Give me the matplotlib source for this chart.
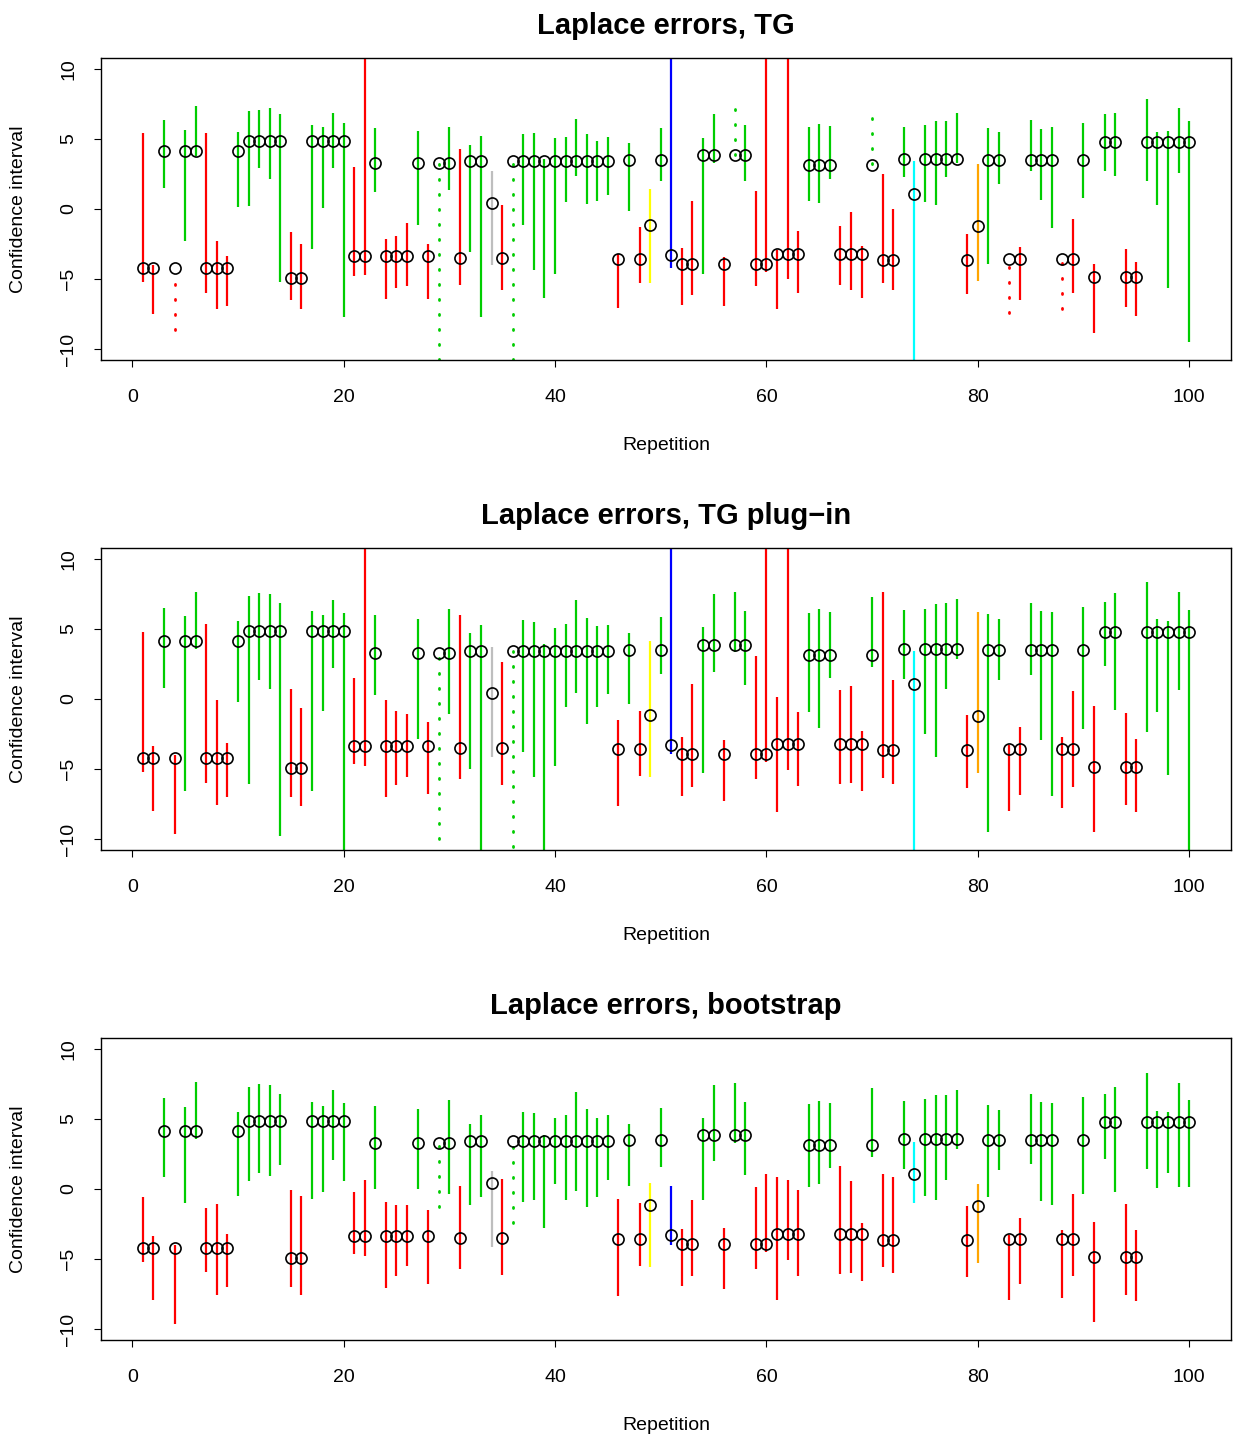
import numpy as np
import matplotlib
matplotlib.use("Agg")
import matplotlib.pyplot as plt

plt.rcParams['font.family'] = ['Liberation Sans', 'DejaVu Sans']

# repetitions and point estimates (same in every panel)
rep = np.arange(1, 101)
est = [-4.19, -4.19, 4.14, -4.19, 4.14, 4.14, -4.19, -4.19, -4.19, 4.14,
       4.86, 4.86, 4.86, 4.86, -4.90, -4.90, 4.86, 4.86, 4.86, 4.86,
       -3.33, -3.33, 3.26, -3.33, -3.33, -3.33, 3.26, -3.33, 3.26, 3.26,
       -3.50, 3.43, 3.43, 0.45, -3.50, 3.43, 3.43, 3.43, 3.43, 3.43,
       3.43, 3.43, 3.43, 3.43, 3.43, -3.55, 3.48, -3.55, -1.17, 3.48,
       -3.31, -3.90, -3.90, 3.86, 3.86, -3.90, 3.86, 3.86, -3.90, -3.90,
       -3.19, -3.19, -3.19, 3.14, 3.14, 3.14, -3.19, -3.19, -3.19, 3.14,
       -3.67, -3.67, 3.60, 1.05, 3.60, 3.60, 3.60, 3.60, -3.67, -1.21,
       3.52, 3.52, -3.60, -3.60, 3.52, 3.52, 3.52, -3.60, -3.60, 3.52,
       -4.86, 4.81, 4.81, -4.86, -4.86, 4.81, 4.81, 4.81, 4.81, 4.81]

# colours that differ from the usual red / green
special_col = {34: '#BEBEBE', 49: '#FFFF00', 51: '#0000FF', 74: '#00FFFF', 80: '#FFA500'}

# TG
tg_hi = [5.45, -4.00, 6.36, -4.50, 5.64, 7.36, 5.43, -2.26, -3.33, 5.52,
         6.98, 7.05, 7.21, 6.79, -1.67, -2.52, 6.02, 5.83, 6.83, 6.14,
         3.00, 12.0, 5.79, -2.14, -1.93, -1.02, 5.60, -2.50, 3.26, 5.86,
         4.29, 4.55, 5.19, 2.71, 0.29, 3.43, 5.38, 5.40, 3.60, 5.07,
         5.12, 6.43, 5.38, 4.86, 5.12, -3.20, 4.69, -1.29, 1.40, 5.81,
         12.0, -2.79, 0.57, 5.07, 6.81, -3.40, 7.17, 5.98, 1.26, 12.0,
         -2.93, 12.0, -1.57, 5.88, 6.07, 5.95, -1.24, -0.24, -2.64, 6.48,
         2.52, -0.02, 5.86, 3.43, 6.02, 6.26, 6.31, 6.88, -1.79, 3.24,
         5.79, 5.52, -3.60, -2.69, 6.38, 5.69, 5.88, -3.60, -0.74, 6.17,
         -3.90, 6.79, 6.83, -2.86, -3.81, 7.83, 5.48, 5.60, 7.19, 6.31]
tg_lo = [-5.19, -7.52, 1.52, -8.64, -2.26, 3.81, -5.98, -7.12, -6.90, 0.17,
         0.24, 2.90, 2.14, -5.24, -6.50, -7.12, -2.88, 0.10, 2.95, -7.74,
         -4.76, -4.69, 1.19, -6.43, -5.62, -5.50, -1.14, -6.43, -10.78, 1.38,
         -5.45, -3.10, -7.74, -3.98, -5.81, -10.78, -1.17, -4.36, -6.33, -4.67,
         0.48, 2.38, 0.36, 0.57, 0.98, -7.05, -0.12, -5.29, -5.26, 2.00,
         -4.21, -6.86, -6.17, -4.62, 3.26, -6.93, 3.86, 2.00, -5.48, -4.48,
         -7.17, -5.02, -6.02, 0.57, 0.43, 2.17, -5.45, -5.79, -6.33, 3.14,
         -5.26, -5.79, 2.26, -12.0, 0.50, 0.31, 2.29, 3.30, -6.10, -5.12,
         -3.90, 1.79, -7.45, -6.50, 2.74, 0.64, -1.33, -7.17, -6.02, 0.79,
         -8.83, 2.74, 2.38, -7.00, -7.62, 2.02, 0.29, -5.62, 2.57, -9.52]
tg_dotted = [4, 29, 36, 57, 70, 83, 88]

# TG plug-in
pl_hi = [4.76, -3.36, 6.50, -4.00, 5.93, 7.67, 5.38, -0.10, -3.14, 5.57,
         7.38, 7.55, 7.48, 6.88, 0.74, -0.62, 6.29, 5.98, 7.10, 6.17,
         1.50, 12.0, 6.00, -0.10, -0.88, -1.05, 5.74, -1.62, 3.26, 6.40,
         5.98, 4.69, 5.26, 3.71, 2.62, 3.43, 5.64, 5.50, 3.93, 5.05,
         5.36, 7.05, 5.76, 5.19, 5.29, -1.50, 4.69, -0.83, 4.12, 5.83,
         12.0, -2.74, 1.07, 5.12, 7.50, -2.93, 7.67, 6.31, 3.05, 12.0,
         0.12, 12.0, -0.90, 6.12, 6.40, 6.21, 0.64, 0.95, -2.26, 7.31,
         7.62, 1.33, 6.33, 3.43, 6.45, 6.76, 6.83, 7.14, -1.14, 6.19,
         6.05, 5.69, -3.30, -1.98, 6.86, 6.29, 6.24, -2.74, 0.55, 6.60,
         -0.52, 6.93, 7.55, -1.02, -2.88, 8.33, 5.69, 5.57, 7.64, 6.33]
pl_lo = [-5.19, -7.98, 0.81, -9.64, -6.57, 3.55, -5.98, -7.60, -7.02, -0.19,
         -6.05, 1.36, 0.71, -9.79, -7.02, -7.62, -6.60, -0.88, 2.24, -12.0,
         -4.67, -4.76, 0.26, -7.02, -6.17, -5.55, -2.83, -6.81, -10.00, -1.05,
         -5.69, -4.98, -12.0, -4.12, -6.14, -10.55, -3.81, -5.57, -12.0, -4.81,
         -0.55, 0.45, -1.76, -0.57, 0.36, -7.67, -0.33, -5.50, -5.57, 1.76,
         -3.95, -6.90, -6.26, -5.31, 1.95, -7.26, 3.38, 1.02, -5.69, -4.48,
         -8.05, -5.07, -6.24, -0.90, -2.05, 1.50, -6.05, -6.00, -6.57, 2.31,
         -5.64, -6.05, 1.40, -12.0, -2.48, -4.14, 0.71, 2.83, -6.33, -5.31,
         -9.52, 1.38, -7.98, -6.83, 1.74, -2.95, -6.93, -7.76, -6.26, -2.12,
         -9.48, 2.33, -0.79, -7.57, -8.05, -2.33, -0.95, -5.45, 0.64, -12.0]
pl_dotted = [29, 36]

# bootstrap
bs_hi = [-0.57, -3.36, 6.48, -4.00, 5.83, 7.62, -1.36, -1.10, -3.21, 5.52,
         7.31, 7.48, 7.43, 6.81, -0.10, -0.50, 6.21, 5.90, 7.05, 6.12,
         -0.21, 0.67, 5.93, -0.95, -1.17, -1.17, 5.69, -1.50, 3.26, 6.38,
         0.19, 4.64, 5.26, 1.26, 0.69, 3.43, 5.52, 5.43, 3.86, 5.05,
         5.29, 6.93, 5.71, 5.07, 5.26, -0.71, 4.64, -1.00, 0.45, 5.79,
         0.24, -2.88, -0.81, 5.10, 7.43, -2.76, 7.55, 6.24, 0.14, 1.10,
         0.86, 0.67, -0.07, 6.07, 6.31, 6.17, 1.62, 0.55, -2.40, 7.19,
         1.05, 0.86, 6.29, 3.33, 6.40, 6.69, 6.69, 7.07, -1.21, 0.36,
         5.98, 5.64, -3.30, -2.07, 6.81, 6.24, 6.17, -2.93, -0.38, 6.55,
         -2.38, 6.81, 7.26, -1.07, -2.93, 8.26, 5.60, 5.48, 7.55, 6.33]
bs_lo = [-5.19, -7.93, 0.88, -9.62, -1.02, 3.55, -5.95, -7.60, -7.02, -0.48,
         0.55, 1.17, 0.95, 1.71, -7.00, -7.60, -0.71, -0.24, 2.10, 0.60,
         -4.67, -4.79, 0.00, -7.05, -6.19, -5.52, 0.00, -6.81, -1.26, -0.38,
         -5.69, -1.12, -0.57, -4.14, -6.12, -2.40, -0.93, -0.81, -2.76, 0.33,
         -0.76, -0.14, -1.29, -0.55, 0.64, -7.67, 0.19, -5.52, -5.55, 1.60,
         -3.98, -6.90, -6.21, -0.76, 2.00, -7.14, 3.26, 1.00, -5.69, -4.48,
         -7.95, -5.07, -6.21, 0.14, 0.36, 1.52, -6.05, -5.98, -6.57, 2.31,
         -5.60, -5.98, 1.45, -0.98, -0.52, -0.79, 0.64, 2.86, -6.31, -5.26,
         -0.60, 1.33, -7.95, -6.79, 1.76, -0.83, -1.14, -7.79, -6.24, -0.36,
         -9.50, 2.14, -0.24, -7.55, -8.02, 1.40, 0.07, 1.12, 0.12, 0.12]
bs_dotted = [29, 36]

panels = [("Laplace errors, TG", tg_lo, tg_hi, tg_dotted),
          ("Laplace errors, TG plug\u2212in", pl_lo, pl_hi, pl_dotted),
          ("Laplace errors, bootstrap", bs_lo, bs_hi, bs_dotted)]

W, H = 1233, 1437
fig = plt.figure(figsize=(W / 100, H / 100), dpi=100)

box_left, box_w, box_h = 101, 1130, 302.4
box_tops = [57.8, 547.8, 1037.8]

for (title, lo, hi, dotted), top in zip(panels, box_tops):
    ax = fig.add_axes([box_left / W, 1 - (top + box_h) / H, box_w / W, box_h / H])
    for i, e, l, h in zip(rep, est, lo, hi):
        col = special_col.get(i, '#FF0000' if e < 0 else '#00CD00')
        if i in dotted:
            # dotted: drawn from the far end towards the estimate
            if abs(l - e) > abs(h - e):
                ys = [l, h]
            else:
                ys = [h, l]
            ax.plot([i, i], ys, color=col, lw=2.0,
                    linestyle=(0, (0.4, 5.0)), dash_capstyle='round', zorder=2)
        else:
            ax.plot([i, i], [l, h], color=col, lw=1.6, solid_capstyle='butt', zorder=2)
    ax.plot(rep, est, 'o', mfc='none', mec='black', ms=8, mew=1.2, zorder=3)

    ax.set_xlim(-2.96, 103.96)
    ax.set_ylim(-10.8, 10.8)
    ax.set_xticks([0, 20, 40, 60, 80, 100])
    ax.set_yticks([-10, -5, 0, 5, 10])
    ax.tick_params(direction='out', length=5, width=0.8, labelsize=14)
    ax.tick_params(axis='x', pad=15.5)
    ax.tick_params(axis='y', pad=12)
    for lab in ax.get_yticklabels():
        lab.set_rotation(90)
        lab.set_va('center')
    for sp in ax.spines.values():
        sp.set_linewidth(1.0)

    ax.set_xlabel("Repetition", fontsize=14)
    ax.xaxis.set_label_coords(0.5, -85 / box_h)
    ax.xaxis.label.set_va('center')
    ax.set_ylabel("Confidence interval", fontsize=14)
    ax.yaxis.set_label_coords(-82 / box_w, 0.5)
    ax.yaxis.label.set_va('center')
    ax.text(0.5, 1 + 32 / box_h, title, transform=ax.transAxes,
            ha='center', va='center', fontsize=21, fontweight='bold')

fig.savefig("out.png", dpi=100)
